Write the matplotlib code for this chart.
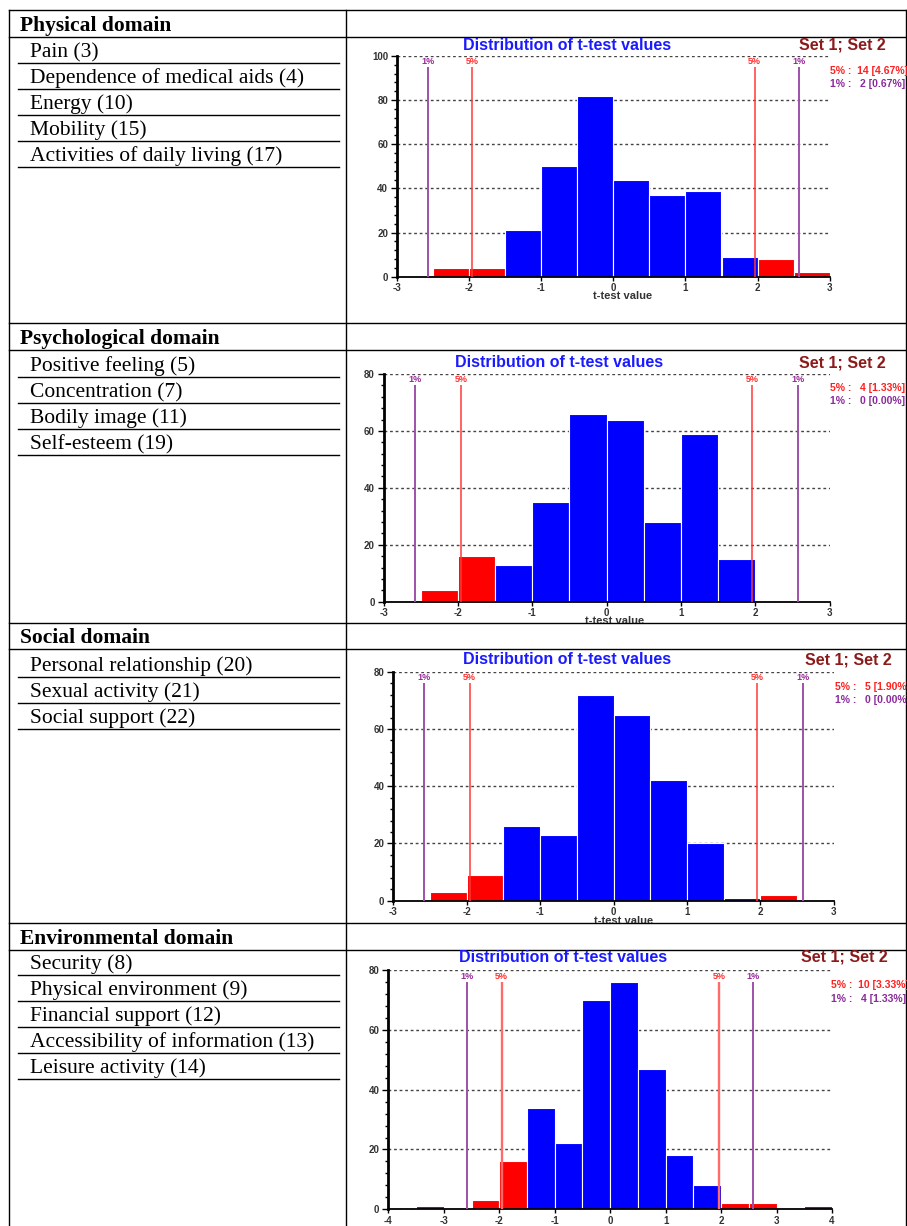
import numpy as np
import matplotlib
matplotlib.use('Agg')
import matplotlib.pyplot as plt
from matplotlib.lines import Line2D
from matplotlib.ticker import MultipleLocator
from matplotlib.transforms import Bbox

plt.rcParams['axes.unicode_minus'] = False

# table text
domains = ['Physical domain', 'Psychological domain', 'Social domain', 'Environmental domain']
physical_items = ['Pain (3)', 'Dependence of medical aids (4)', 'Energy (10)', 'Mobility (15)',
                  'Activities of daily living (17)']
psychological_items = ['Positive feeling (5)', 'Concentration (7)', 'Bodily image (11)', 'Self\u2010esteem (19)']
social_items = ['Personal relationship (20)', 'Sexual activity (21)', 'Social support (22)']
environmental_items = ['Security (8)', 'Physical environment (9)', 'Financial support (12)',
                       'Accessibility of information (13)', 'Leisure activity (14)']

# histograms: left bin edges, counts, significance class of each bin
phys_bins = [-3, -2.5, -2, -1.5, -1, -0.5, 0, 0.5, 1, 1.5, 2, 2.5]
phys_counts = [0, 4, 4, 21, 50, 82, 44, 37, 39, 9, 8, 2]
phys_sig = ['n', '5', '5', 'n', 'n', 'n', 'n', 'n', 'n', 'n', '5', '5']

psych_bins = [-3, -2.5, -2, -1.5, -1, -0.5, 0, 0.5, 1, 1.5, 2, 2.5]
psych_counts = [0, 4, 16, 13, 35, 66, 64, 28, 59, 15, 0, 0]
psych_sig = ['n', '5', '5', 'n', 'n', 'n', 'n', 'n', 'n', 'n', 'n', 'n']

social_bins = [-3, -2.5, -2, -1.5, -1, -0.5, 0, 0.5, 1, 1.5, 2, 2.5]
social_counts = [0, 3, 9, 26, 23, 72, 65, 42, 20, 1, 2, 0]
social_sig = ['n', '5', '5', 'n', 'n', 'n', 'n', 'n', 'n', 'n', '5', 'n']

env_bins = [-4, -3.5, -3, -2.5, -2, -1.5, -1, -0.5, 0, 0.5, 1, 1.5, 2, 2.5, 3, 3.5]
env_counts = [0, 1, 0, 3, 16, 34, 22, 70, 76, 47, 18, 8, 2, 2, 0, 1]
env_sig = ['n', '1', 'n', '5', '5', 'n', 'n', 'n', 'n', 'n', 'n', 'n', '5', '5', 'n', '1']

ann5 = ['5% :  14 [4.67%]', '5% :   4 [1.33%]', '5% :   5 [1.90%]', '5% :  10 [3.33%]']
ann1 = ['1% :   2 [0.67%]', '1% :   0 [0.00%]', '1% :   0 [0.00%]', '1% :   4 [1.33%]']
ymaxes = [100, 80, 80, 80]
xlims = [(-3, 3), (-3, 3), (-3, 3), (-4, 4)]
crit5 = 1.96
crit1 = 2.576

W, H = 907, 1226
fig = plt.figure(figsize=(W / 100, H / 100), dpi=100)


def line(x0, y0, x1, y1, lw=1.0):
    fig.add_artist(Line2D([x0 / W, x1 / W], [1 - y0 / H, 1 - y1 / H], color='black', lw=lw))


def ftext(x, y, s, **kw):
    return fig.text(x / W, 1 - y / H, s, **kw)


# ---- table grid
head_top = [10, 323, 623, 923]
head_bot = [37, 350, 649, 950]
row_end = [323, 623, 923, 1226]
for y in head_top + head_bot:
    line(9, y, 906, y)
for x in [9, 346, 906]:
    line(x, 10, x, 1226)

all_items = [physical_items, psychological_items, social_items, environmental_items]
first_ul = [63, 377, 677, 975]
serif = 'Liberation Serif'
for i in range(4):
    ftext(20, head_bot[i] - 6, domains[i], ha='left', va='baseline', fontsize=15.5,
          fontweight='bold', family=serif)
    for j, it in enumerate(all_items[i]):
        yy = first_ul[i] + j * 26
        ftext(30, yy - 6, it, ha='left', va='baseline', fontsize=15.5, family=serif)
        line(18, yy, 339, yy)

# ---- histograms
sans = 'Liberation Sans'
sig_col = {'n': '#0000ff', '5': '#ff0000', '1': '#800080'}
boxes = [(397.2, 829.6, 276.7, 56), (383.7, 829.6, 601.7, 374), (393.3, 833.8, 900.7, 671.7),
         (388.4, 832, 1209.3, 970)]
title_y = [45, 362.5, 660, 957.5]
title_x = [567, 558.7, 567, 563]
set_x = [799.4, 799.4, 804.7, 801]
ann_x = [829.6, 829.6, 834.9, 831.3]
ann_y = [70.7, 388, 686.7, 985]
xlab_x = [622.5, 614.6, 623.5, 620]
xlab_y = [296, 621, 921, 1234]
red_line = [('#ff3838', 1.1), ('#ff3838', 1.1), ('#ff3838', 1.1), ('#ff6a6a', 1.7)]

data = [(phys_bins, phys_counts, phys_sig), (psych_bins, psych_counts, psych_sig),
        (social_bins, social_counts, social_sig), (env_bins, env_counts, env_sig)]

for k in range(4):
    l, r, y0, yt = boxes[k]
    ax = fig.add_axes([l / W, 1 - y0 / H, (r - l) / W, (y0 - yt) / H])
    bins, counts, sig = data[k]
    ax.bar(bins, counts, width=0.5, align='edge', color=[sig_col[s] for s in sig],
           edgecolor='white', lw=0.8, zorder=2)
    ymax = ymaxes[k]
    ax.set_xlim(*xlims[k])
    ax.set_ylim(0, ymax)
    ax.set_axisbelow(True)
    ax.yaxis.grid(True, linestyle=(0, (2, 2)), color='#444444', lw=1.0)
    ax.yaxis.set_major_locator(MultipleLocator(20))
    ax.yaxis.set_minor_locator(MultipleLocator(4))
    ax.set_xticks(range(xlims[k][0], xlims[k][1] + 1))
    for s in ['top', 'right']:
        ax.spines[s].set_visible(False)
    ax.spines['left'].set_linewidth(2)
    ax.spines['bottom'].set_linewidth(1.3)
    ax.tick_params(axis='y', which='major', length=4.5, width=1, pad=2, labelsize=7,
                   labelcolor='#333333')
    ax.tick_params(axis='y', which='minor', length=2.5, width=1)
    ax.tick_params(axis='x', length=3, width=1, pad=1.5, labelsize=7, labelcolor='#333333')
    for lab in ax.get_xticklabels() + ax.get_yticklabels():
        lab.set_fontweight('bold')
        lab.set_family(sans)

    top = 0.95 * ymax
    for c, col, lw, txt in [(crit1, '#a050a8', 1.4, '1%'),
                            (crit5, red_line[k][0], red_line[k][1], '5%')]:
        for xv in (-c, c):
            ax.vlines(xv, 0, top, color=col, lw=lw, zorder=3)
            ax.text(xv, top + ymax * 0.005, txt, ha='center', va='bottom', fontsize=6.5,
                    fontweight='bold', color='#9b2a9b' if txt == '1%' else '#ff3030',
                    family=sans)

    ftext(title_x[k], title_y[k], 'Distribution of t-test values', ha='center', va='center',
          fontsize=11.5, fontweight='bold', color='#1a1aff', family=sans)
    ftext(set_x[k], title_y[k], 'Set 1; Set 2', ha='left', va='center', fontsize=11.5,
          fontweight='bold', color='#8b1a1a', family=sans)
    ftext(ann_x[k], ann_y[k], ann5[k], ha='left', va='center', fontsize=7.5,
          fontweight='bold', color='#ff2020', family=sans)
    ftext(ann_x[k], ann_y[k] + 13.5, ann1[k], ha='left', va='center', fontsize=7.5,
          fontweight='bold', color='#8b2a9b', family=sans)
    t = ftext(xlab_x[k], xlab_y[k], 't-test value', ha='center', va='center',
              fontsize=8, fontweight='bold', color='#333333', family=sans)
    t.set_clip_box(Bbox.from_extents(346, H - row_end[k], 906, H - head_bot[k]))
    t.set_clip_on(True)

fig.savefig('out.png', dpi=100)
